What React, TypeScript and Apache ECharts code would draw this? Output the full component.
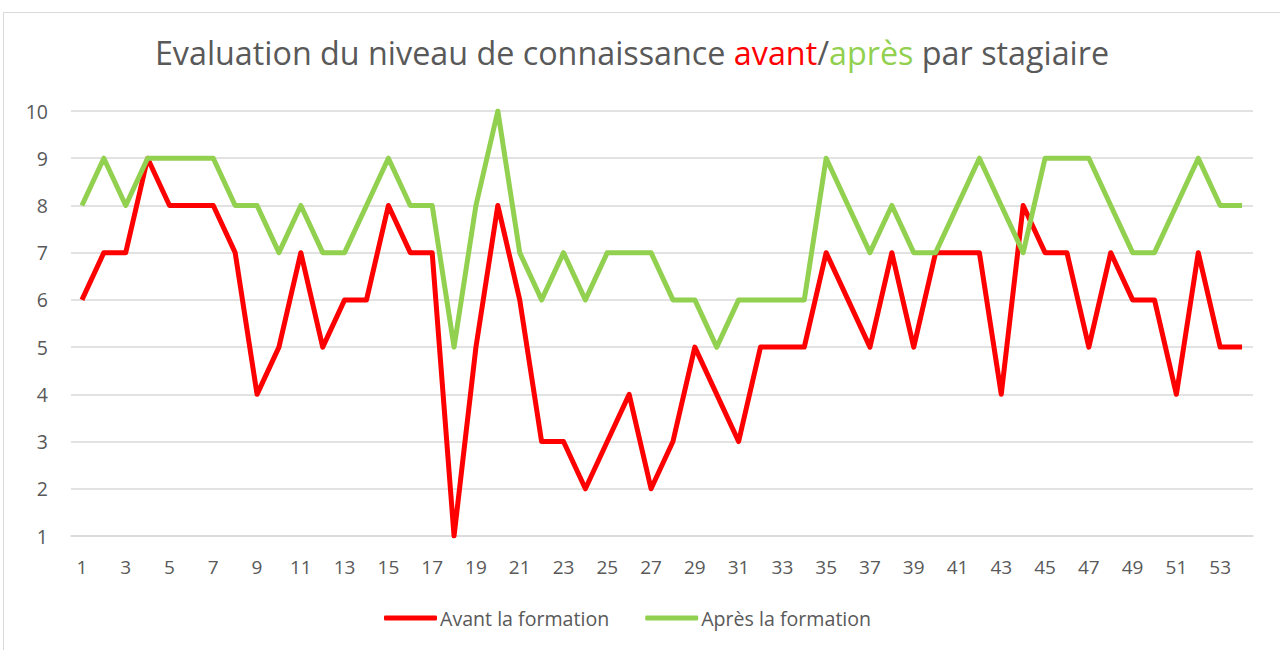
import React, { useEffect, useRef } from "react";
import * as echarts from "echarts";

const categories: string[] = Array.from({ length: 54 }, (_, i) => String(i + 1));

const avant: number[] = [
  6, 7, 7, 9, 8, 8, 8, 7, 4, 5,
  7, 5, 6, 6, 8, 7, 7, 1, 5, 8,
  6, 3, 3, 2, 3, 4, 2, 3, 5, 4,
  3, 5, 5, 5, 7, 6, 5, 7, 5, 7,
  7, 7, 4, 8, 7, 7, 5, 7, 6, 6,
  4, 7, 5, 5,
];

const apres: number[] = [
  8, 9, 8, 9, 9, 9, 9, 8, 8, 7,
  8, 7, 7, 8, 9, 8, 8, 5, 8, 10,
  7, 6, 7, 6, 7, 7, 7, 6, 6, 5,
  6, 6, 6, 6, 9, 8, 7, 8, 7, 7,
  8, 9, 8, 7, 9, 9, 9, 8, 7, 7,
  8, 9, 8, 8,
];

const seriesNames = ["Avant la formation", "Après la formation"];

const FONT = "'Open Sans', 'Noto Sans', sans-serif";
const GRAY = "#595959";
const RED = "#FF0000";
const GREEN = "#92D050";

export default function App() {
  const ref = useRef<HTMLDivElement>(null);

  useEffect(() => {
    if (!ref.current) return;
    const chart = echarts.init(ref.current, undefined, { renderer: "svg" });
    chart.setOption({
      animation: false,
      backgroundColor: "#ffffff",
      textStyle: { fontFamily: FONT },
      graphic: [
        {
          type: "rect",
          shape: { x: 3.5, y: 12.5, width: 1300, height: 700 },
          style: { fill: "none", stroke: "#d9d9d9", lineWidth: 1 },
          silent: true,
        },
      ],
      title: {
        text: "Evaluation du niveau de connaissance {r|avant}/{g|après} par stagiaire",
        left: 627,
        textAlign: "center",
        top: 31,
        textStyle: {
          fontFamily: FONT,
          fontSize: 32.3,
          fontWeight: "normal",
          color: GRAY,
          rich: {
            r: { fontFamily: FONT, fontSize: 32.3, color: RED },
            g: { fontFamily: FONT, fontSize: 32.3, color: GREEN },
          },
        },
      },
      legend: {
        data: seriesNames,
        bottom: 17,
        left: 379,
        itemWidth: 53,
        itemHeight: 5,
        itemGap: 36,
        icon: "roundRect",
        textStyle: { fontFamily: FONT, fontSize: 19.6, color: GRAY, padding: [0, 0, 0, -2] },
      },
      grid: { left: 71, right: 27, top: 111, bottom: 114 },
      xAxis: {
        type: "category",
        data: categories,
        boundaryGap: true,
        axisLine: { show: true, lineStyle: { color: "#d9d9d9", width: 1.5 } },
        axisTick: { show: false },
        axisLabel: { interval: 1, color: GRAY, fontSize: 19, fontFamily: FONT, margin: 21 },
      },
      yAxis: {
        type: "value",
        min: 1,
        max: 10,
        interval: 1,
        axisLine: { show: false },
        axisTick: { show: false },
        axisLabel: { color: GRAY, fontSize: 19.5, fontFamily: FONT, margin: 23 },
        splitLine: { lineStyle: { color: "#d9d9d9", width: 1.5 } },
      },
      series: [
        {
          name: seriesNames[0],
          type: "line",
          data: avant,
          symbol: "none",
          color: RED,
          lineStyle: { color: RED, width: 5, join: "round" },
        },
        {
          name: seriesNames[1],
          type: "line",
          data: apres,
          symbol: "none",
          color: GREEN,
          lineStyle: { color: GREEN, width: 5, join: "round" },
        },
      ],
    });
    return () => chart.dispose();
  }, []);

  return (
    <div
      ref={ref}
      style={{ position: "fixed", left: 0, top: 0, width: 1280, height: 650 }}
    />
  );
}
